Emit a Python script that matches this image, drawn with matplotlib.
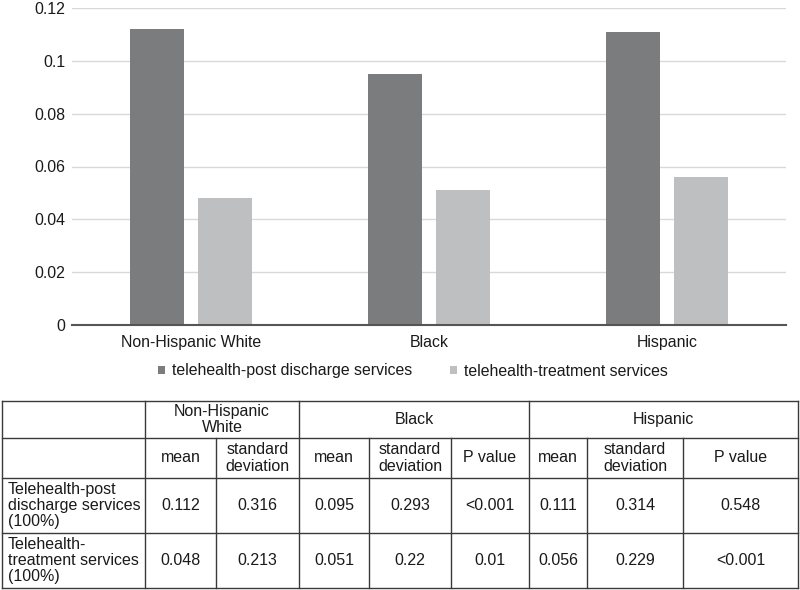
import numpy as np
import matplotlib
matplotlib.use('Agg')
from matplotlib import pyplot as plt

plt.rcParams['font.family'] = ['Liberation Sans', 'DejaVu Sans']

# data
groups = ['Non-Hispanic White', 'Black', 'Hispanic']
post_mean = [0.112, 0.095, 0.111]
treat_mean = [0.048, 0.051, 0.056]
post_sd = [0.316, 0.293, 0.314]
treat_sd = [0.213, 0.22, 0.229]
post_p = ['<0.001', '0.548']     # Black, Hispanic vs NHW
treat_p = ['0.01', '<0.001']
series_names = ['telehealth-post discharge services', 'telehealth-treatment services']
row_names = ['Telehealth-post\ndischarge services\n(100%)', 'Telehealth-\ntreatment services\n(100%)']
yticks = [0, 0.02, 0.04, 0.06, 0.08, 0.1, 0.12]
ytick_labels = ['0', '0.02', '0.04', '0.06', '0.08', '0.1', '0.12']

dark = '#7b7c7e'
light = '#bebfc1'
txt = '#1a1a1a'
fs_chart = 11.4
fs_table = 11.5

W, H = 800, 590
fig = plt.figure(figsize=(W / 100, H / 100), dpi=100)

# ---- bar chart ----
ax = fig.add_axes([72 / W, 1 - 325 / H, (786 - 72) / W, (325 - 8) / H])
x = np.arange(len(groups))
bw = 0.223
off = 0.143
b1 = ax.bar(x - off, post_mean, bw, color=dark, zorder=3)
b2 = ax.bar(x + off, treat_mean, bw, color=light, zorder=3)
ax.set_xlim(-0.5, 2.5)
ax.set_ylim(0, 0.12)
ax.set_yticks(yticks)
ax.set_yticklabels(ytick_labels)
ax.set_xticks(x)
ax.set_xticklabels(groups)
ax.tick_params(length=0, labelsize=fs_chart, colors=txt)
ax.tick_params(axis='y', pad=5)
ax.tick_params(axis='x', pad=7)
ax.grid(axis='y', color='#d9d9d9', lw=1, zorder=0)
for s in ['top', 'right', 'left']:
    ax.spines[s].set_visible(False)
ax.spines['bottom'].set_color('#555555')
ax.spines['bottom'].set_linewidth(1.5)
ax.spines['bottom'].set_zorder(4)

fig.legend([b1, b2], series_names, loc='center', bbox_to_anchor=(413 / W, 1 - 371 / H),
           ncol=2, frameon=False, fontsize=fs_chart, handlelength=0.45, handleheight=0.45,
           handletextpad=0.45, columnspacing=2.4, labelcolor=txt)

# ---- table ----
tab = fig.add_axes([0, 0, 1, 1])
tab.set_xlim(0, W)
tab.set_ylim(H, 0)
tab.axis('off')

cols = [2, 145, 216, 299, 369, 451, 529, 587, 683, 798]
rows = [401, 438, 478, 533, 588]
lc = '#3a3a3a'
lw = 1.0

# horizontal lines
for r in rows:
    tab.plot([cols[0], cols[-1]], [r, r], color=lc, lw=lw)
# vertical lines: full height ones
for c in [cols[0], cols[1], cols[3], cols[6], cols[-1]]:
    tab.plot([c, c], [rows[0], rows[-1]], color=lc, lw=lw)
# vertical lines below top header
for c in [cols[2], cols[4], cols[5], cols[7], cols[8]]:
    tab.plot([c, c], [rows[1], rows[-1]], color=lc, lw=lw)


def cell(c0, c1, r0, r1, s, ha='center'):
    yy = (rows[r0] + rows[r1]) / 2
    if ha == 'center':
        xx = (cols[c0] + cols[c1]) / 2
    else:
        xx = cols[c0] + 6
    tab.text(xx, yy, s, ha=ha, va='center', fontsize=fs_table, color=txt, linespacing=1.1)


# header row 1
cell(1, 3, 0, 1, 'Non-Hispanic\nWhite')
cell(3, 6, 0, 1, groups[1])
cell(6, 9, 0, 1, groups[2])
# header row 2
sub = ['mean', 'standard\ndeviation', 'mean', 'standard\ndeviation', 'P value',
       'mean', 'standard\ndeviation', 'P value']
for i, s in enumerate(sub):
    cell(i + 1, i + 2, 1, 2, s)

# body rows
body = [
    [post_mean, post_sd, post_p],
    [treat_mean, treat_sd, treat_p],
]
for ri, (m, sd, p) in enumerate(body):
    cell(0, 1, ri + 2, ri + 3, row_names[ri], ha='left')
    vals = [str(m[0]), str(sd[0]),
            str(m[1]), str(sd[1]), p[0],
            str(m[2]), str(sd[2]), p[1]]
    for i, s in enumerate(vals):
        cell(i + 1, i + 2, ri + 2, ri + 3, s)

fig.savefig('out.png', dpi=100)
